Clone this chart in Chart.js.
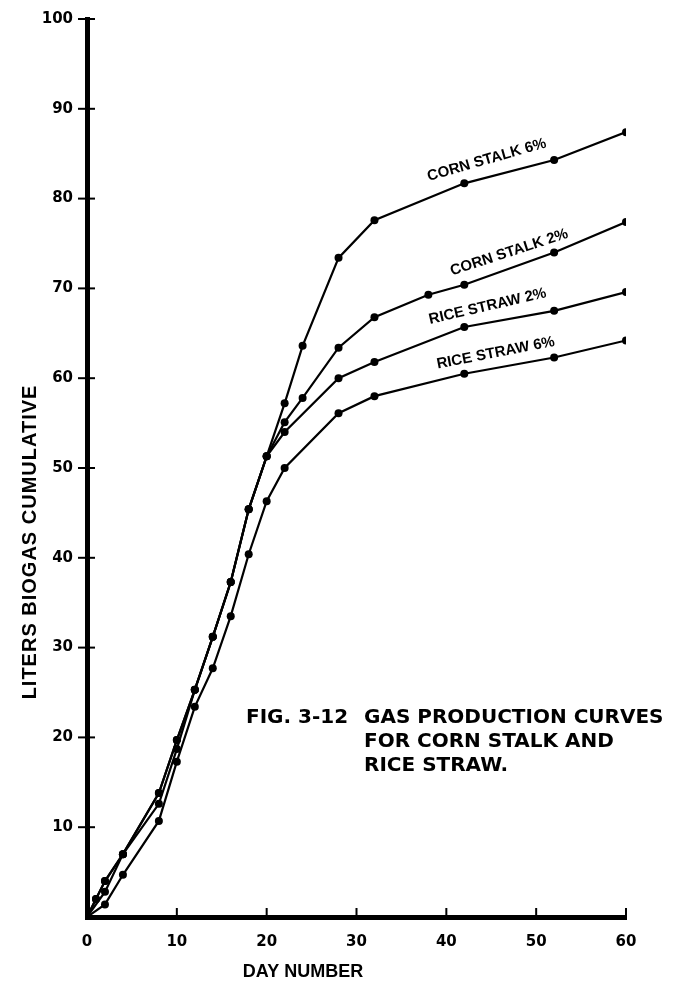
<!DOCTYPE html>
<html>
<head>
<meta charset="utf-8">
<script src="https://cdn.jsdelivr.net/npm/chart.js@4.4.1/dist/chart.umd.min.js"></script>
<style>
  html, body { margin: 0; padding: 0; background: #fff; }
  #wrap { width: 674px; height: 989px; }
</style>
</head>
<body>
<div id="wrap"><canvas id="gasChart"></canvas></div>
<script>
// data (day number -> liters biogas cumulative)
const corn6Days = [0, 1, 2, 4, 8, 10, 12, 14, 16, 18, 20, 22, 24, 28, 32, 42, 52, 60];
const corn6Liters = [0, 2.0, 4.0, 7.0, 13.8, 19.7, 25.3, 31.2, 37.3, 45.4, 51.3, 57.2, 63.6, 73.4, 77.6, 81.7, 84.3, 87.4];

const corn2Days = [0, 1, 2, 4, 8, 10, 12, 14, 16, 18, 20, 22, 24, 28, 32, 38, 42, 52, 60];
const corn2Liters = [0, 2.0, 4.0, 7.0, 13.8, 19.7, 25.3, 31.2, 37.3, 45.4, 51.3, 55.1, 57.8, 63.4, 66.8, 69.3, 70.4, 74.0, 77.4];

const rice2Days = [0, 2, 4, 8, 10, 12, 14, 16, 18, 20, 22, 28, 32, 42, 52, 60];
const rice2Liters = [0, 2.8, 7.0, 12.6, 18.7, 25.3, 31.2, 37.3, 45.4, 51.3, 54.0, 60.0, 61.8, 65.7, 67.5, 69.6];

const rice6Days = [0, 2, 4, 8, 10, 12, 14, 16, 18, 20, 22, 28, 32, 42, 52, 60];
const rice6Liters = [0, 1.4, 4.7, 10.7, 17.3, 23.4, 27.7, 33.5, 40.4, 46.3, 50.0, 56.1, 58.0, 60.5, 62.3, 64.2];

const seriesNames = ['CORN STALK 6%', 'CORN STALK 2%', 'RICE STRAW 2%', 'RICE STRAW 6%'];
const xTicks = [0, 10, 20, 30, 40, 50, 60];
const yTicks = [10, 20, 30, 40, 50, 60, 70, 80, 90, 100];

const toPoints = (days, vals) => days.map((d, i) => ({ x: d, y: vals[i] }));

// tick marks crossing the axes, curve labels, axis titles and caption
const decorations = {
  id: 'decorations',
  afterDraw(chart) {
    const { ctx, chartArea, scales: { x, y } } = chart;
    ctx.save();
    ctx.strokeStyle = '#000';
    ctx.fillStyle = '#000';
    ctx.lineWidth = 2;

    yTicks.forEach(v => {
      const py = y.getPixelForValue(v);
      ctx.beginPath();
      ctx.moveTo(chartArea.left - 9, py);
      ctx.lineTo(chartArea.left + 8, py);
      ctx.stroke();
    });
    xTicks.slice(1).forEach(v => {
      const px = x.getPixelForValue(v);
      ctx.beginPath();
      ctx.moveTo(px, chartArea.bottom - 9);
      ctx.lineTo(px, chartArea.bottom + 2);
      ctx.stroke();
    });

    // curve labels: [day, liters, angle in degrees]
    const labelPos = [[44.5, 84.3, -16], [47.0, 74.0, -18], [44.6, 68.0, -13], [45.5, 62.8, -11]];
    ctx.font = 'bold 15px "Liberation Sans"';
    ctx.textAlign = 'center';
    ctx.textBaseline = 'middle';
    seriesNames.forEach((name, i) => {
      const [d, l, a] = labelPos[i];
      ctx.save();
      ctx.translate(x.getPixelForValue(d), y.getPixelForValue(l));
      ctx.rotate(a * Math.PI / 180);
      ctx.fillText(name, 0, 0);
      ctx.restore();
    });

    // axis titles
    ctx.save();
    ctx.font = 'bold 20px "Liberation Sans"';
    ctx.letterSpacing = '1px';
    ctx.translate(30, 542);
    ctx.rotate(-Math.PI / 2);
    ctx.fillText('LITERS BIOGAS CUMULATIVE', 0, 0);
    ctx.restore();
    ctx.font = 'bold 18px "Liberation Sans"';
    ctx.fillText('DAY NUMBER', 303, 972);

    // figure caption
    ctx.font = 'bold 20px "DejaVu Sans"';
    ctx.textAlign = 'left';
    ctx.fillText('FIG. 3-12', 246, 718);
    ctx.fillText('GAS PRODUCTION CURVES', 364, 718);
    ctx.fillText('FOR CORN STALK AND', 364, 742);
    ctx.fillText('RICE STRAW.', 364, 766);
    ctx.restore();
  }
};

const lineStyle = {
  borderColor: '#000',
  backgroundColor: '#000',
  borderWidth: 2.2,
  pointRadius: 4,
  pointHoverRadius: 4,
  pointBackgroundColor: '#000',
  pointBorderWidth: 0,
  tension: 0,
  fill: false
};

new Chart(document.getElementById('gasChart'), {
  type: 'line',
  data: {
    datasets: [
      { label: seriesNames[0], data: toPoints(corn6Days, corn6Liters), ...lineStyle },
      { label: seriesNames[1], data: toPoints(corn2Days, corn2Liters), ...lineStyle },
      { label: seriesNames[2], data: toPoints(rice2Days, rice2Liters), ...lineStyle },
      { label: seriesNames[3], data: toPoints(rice6Days, rice6Liters), ...lineStyle }
    ]
  },
  options: {
    responsive: true,
    maintainAspectRatio: false,
    animation: false,
    layout: { padding: { top: 19, right: 48, left: 0, bottom: 0 } },
    plugins: {
      legend: { display: false },
      tooltip: { enabled: false }
    },
    scales: {
      x: {
        type: 'linear',
        min: 0,
        max: 60,
        afterFit(scale) { scale.height = 72; },
        afterBuildTicks(scale) { scale.ticks = xTicks.map(v => ({ value: v })); },
        grid: { display: false },
        border: { display: true, color: '#000', width: 5 },
        ticks: { color: '#000', font: { family: 'DejaVu Sans', size: 15, weight: 'bold' }, padding: 8 }
      },
      y: {
        type: 'linear',
        min: 0,
        max: 100,
        afterFit(scale) { scale.width = 87; },
        afterBuildTicks(scale) { scale.ticks = yTicks.map(v => ({ value: v })); },
        grid: { display: false },
        border: { display: true, color: '#000', width: 5 },
        ticks: { color: '#000', font: { family: 'DejaVu Sans', size: 15, weight: 'bold' }, padding: 6 }
      }
    }
  },
  plugins: [decorations]
});
</script>
</body>
</html>
